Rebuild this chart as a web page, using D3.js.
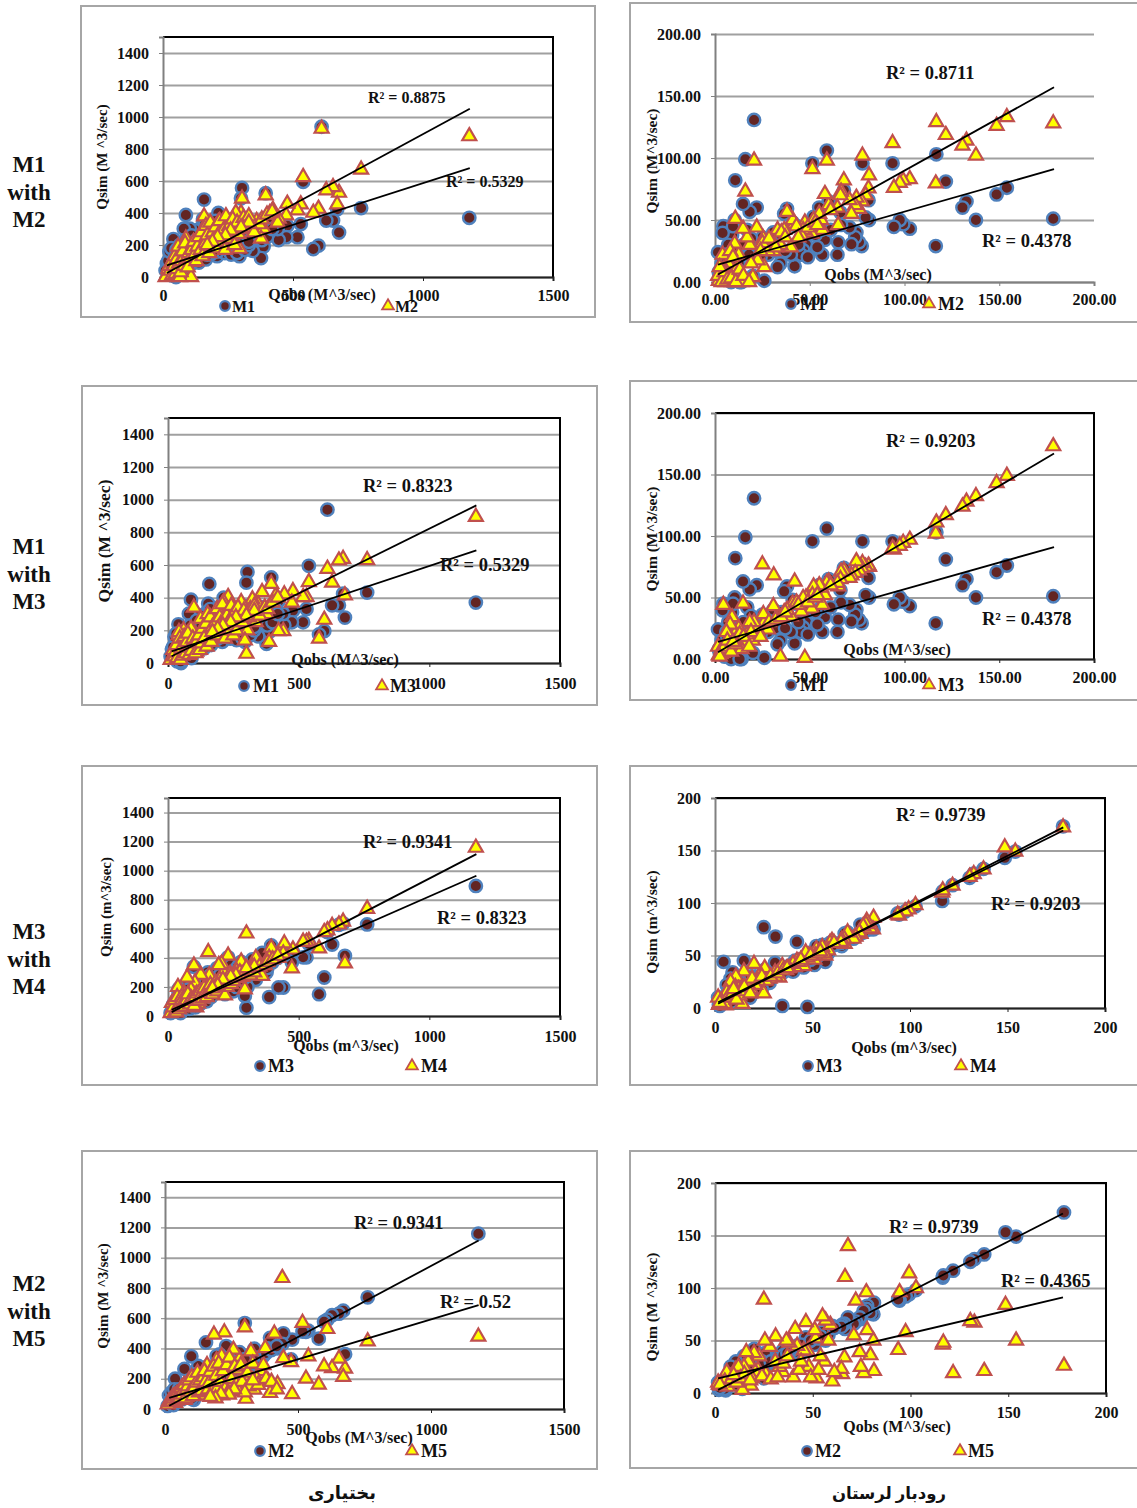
<!DOCTYPE html>
<html>
<head>
<meta charset="utf-8">
<style>
  body { margin: 0; background: #fff; }
  svg { display: block; }
  text { font-family: "Liberation Serif", "DejaVu Sans", serif; font-weight: bold; fill: #111; }
</style>
<script src="https://cdn.jsdelivr.net/npm/d3@7"></script>
</head>
<body>
<div id="chart"></div>
<script>
// Bakhtiari river, values
const qobsB = [1178,762,677,670,654,628,610,598,578,539,
  530,517,478,474,445,441,423,411,395,387,
  377,360,345,336,323,304,300,294,280,272,
  257,245,230,223,213,205,194,184,172,158,
  154,140,125,115,103,99,88,80,73,60,
  50,40,38,30,22,15,10,108,20,25,
  28,32,35,42,45,48,52,55,58,62,
  65,68,72,76,82,85,90,95,100,105,
  110,118,122,128,132,138,145,148,152,162,
  165,170,178,182,188,192,198,202,208,215,
  218,225,232,238,242,250,255,262,268,275,
  285,290,310,315,330,350,370,
  380,400,420,330,300,260,240,210,190,170];
const m1B = [370,431,278,424,353,353,939,196,175,595,
  331,249,320,249,231,300,380,330,524,190,
  118,340,163,270,290,557,492,130,300,250,
  220,180,280,200,400,250,330,200,130,484,
  363,300,290,100,302,150,388,302,200,100,
  0,237,170,150,90,85,40,80,100,160,
  30,180,10,60,120,10,170,40,130,80,
  200,50,150,100,60,230,30,130,70,190,
  260,150,120,230,170,90,250,120,160,330,
  110,210,160,290,140,240,180,350,130,230,
  170,300,190,150,240,310,180,140,260,200,
  150,350,230,170,200,250,280,
  230,250,300,220,280,200,210,160,150,140];
const m2B = [880,671,527,454,562,542,927,427,402,625,
  454,417,458,385,365,340,420,400,510,302,
  240,350,330,302,320,490,400,177,402,292,
  260,300,330,260,344,285,312,300,240,379,
  300,230,208,94,200,170,240,180,130,150,
  80,100,31,60,20,10,0,0,50,70,
  40,90,10,70,130,20,110,50,190,85,
  0,30,100,160,70,210,110,60,150,120,
  170,220,140,100,190,250,170,280,130,210,
  320,260,150,340,200,280,230,310,180,270,
  350,220,290,170,380,250,320,240,360,200,
  340,270,370,300,380,280,330,
  360,390,410,340,310,290,260,250,220,200];
const m3B = [895,630,414,638,628,492,577,265,150,496,
  404,404,440,370,420,196,196,410,485,130,
  300,434,360,250,390,200,57,138,373,270,
  250,300,404,240,373,210,312,180,160,250,
  200,110,271,100,180,339,210,120,100,200,
  130,170,60,90,50,30,20,70,80,40,
  65,110,30,190,150,20,90,45,110,160,
  70,60,130,180,50,95,75,150,120,60,
  130,170,80,120,210,150,240,100,300,280,
  130,220,180,250,330,170,280,240,360,200,
  150,290,250,200,350,170,310,200,340,260,
  250,320,280,330,350,290,340,
  330,370,400,320,290,280,250,230,210,190];
const m4B = [1158,738,362,650,630,620,590,577,465,518,
  510,512,458,328,500,430,400,410,470,400,
  380,276,380,398,340,320,568,183,375,280,
  300,250,416,220,300,360,350,200,180,280,
  440,200,284,85,230,348,180,140,265,160,
  70,100,200,60,40,90,20,60,60,110,
  30,25,130,45,80,60,130,110,75,90,
  65,120,110,150,95,80,120,105,70,130,
  155,105,170,145,120,190,165,130,160,215,
  180,150,190,230,170,200,250,210,240,230,
  142,200,260,290,220,240,280,310,260,300,
  270,290,310,280,300,340,350,
  370,390,415,340,330,280,270,250,210,190];
const m5B = [478,447,267,212,333,271,529,282,161,348,
  201,569,99,310,337,866,165,498,106,187,
  403,250,200,128,381,68,540,220,330,260,
  392,150,110,507,350,200,322,492,200,290,
  150,90,200,130,150,100,170,80,60,100,
  60,70,40,80,60,50,30,90,45,60,
  50,70,85,55,100,65,90,75,110,140,
  95,120,160,70,130,150,190,115,210,85,
  140,175,240,110,190,120,210,250,180,130,
  170,245,115,280,90,220,140,300,180,90,
  250,130,290,110,340,200,120,280,160,120,
  290,180,240,150,300,160,290,
  200,180,130,190,110,130,95,100,70,80];

// Lorestan river, values
const qobsL = [178.5,154,148.6,137.7,132.7,130.6,121.8,116.5,116.8,102.8,
  99.3,97.5,94.4,93.7,81.3,81,79.5,77.8,77.4,76,
  74.6,74,72,71,68,66.5,66.2,65,64.6,60,
  59,58,56.6,56,55,52,51.4,51,48,47.4,
  46.5,45.5,42,41,40,38,36.5,34.5,33,31,
  30.8,28,26,25.5,25,22.5,22,20.6,20,18.3,
  17,16,14.8,14,12.5,10.7,10.4,9,7,5.5,
  4.4,4,3,2,1.6,12,8,6,19,24,
  3.5,5,6.5,8.5,11,13,15,18,2.5,9.5,
  28.5,32,35,37,43,44,49,53,54,61];
const m1L = [51,76,70.6,50,65,60,81,29,103,43,
  46.6,50,44.5,95.7,50,66,52,95.7,29,32,
  40,36,30.5,44,74,46,56,32,22,65,
  106,34,22,42,60,52.6,95.7,26,30,40,
  25.6,22,12.7,48,22,59,55,15,12,35,
  40,22,1,30,36,25,60,130.7,5,56.6,
  42,99,63,0,15,82,50,38,30,12,
  45,39.6,10,8,24,25,20,22,35,20,
  15,2,18,0,12,0,30,22,5,45,
  30,25,38,25,45,30,20,38,28,42];
const m2L = [128,133,126,102,114,110,118.6,79.5,129,83,
  82,80,76,112,86,75.5,70,102,65,59,
  68,62,55,66,82,73,70,46,60,62,
  98,71,42,50,55,50,91,39,40,48,
  42,38,47,50,28,56.6,42,30,42,30,
  25,25,12,35,31.5,17.5,44,98,4,30,
  36,73,43,0,22,51,31,0,15,0,
  10,22,3,1,5,12,25,8,15,25,
  0,8,2,3,0,10,5,0,12,20,
  35,28,40,36,45,36,44,48,46,58];
const m3L = [173,149,143,132.5,128,124,117,102,111,97,
  94.4,92,89,90,75,76,75,78,74,72,
  79.5,70,68,66,72,71,65,59,62,63,
  62,52,44,58,60,59,52,41,50,1,
  49.5,38.6,63,45,34.6,40,38,2,32,68,
  43,24,30,36.5,77,20,25,30,15,30,
  20,12,45,8,25,15,20,34,12,6,
  44,5,4,3,10,18,28,22,22,18,
  8,10,15,6,12,20,18,10,2,14,
  30,32,34,38,46,44,46,50,52,60];
const m4L = [172,149,153,132,127.5,125,116.5,110,112,98,
  94,92,88,89,86,75,76,83,80,78,
  70.5,72,68,66,72,61,66,65,63,64,
  62,55,50,52,58,56,50,46,50,48,
  53,40,45,39,42,38,36,40,29,30,
  34,28,26,38,14,30,26,22,42,18,
  21.5,15,35,4,12,30,20,9,14,2.5,
  7,8,5,3,10,18,25,15,28,30,
  6,4,10,12,8,16,20,14,5,18,
  30,33,36,38,44,46,50,52,54,62];
const m5L = [26,50,84,21,67,68.5,19,46,48,100,
  114,58,96,41,21,50,36,60,96,19,
  25,39,88,55,140,110.5,34,18,23,11,
  65,50,69,30,73,14,52,60,25,40,
  67.6,40.6,45,61,15,48,50,20,25,54,
  30,44,18,50,89,35,22,20,38,7,
  30,39,25,3,18,12,22,10,16,14,
  12,9,7,8,10,25,15,20,14,16,
  9,11,6,13,10,14,18,12,8,17,
  13,15,28,35,22,30,15,22,35,20];

// Ticks
const yTicksB = [0, 200, 400, 600, 800, 1000, 1200, 1400];
const xTicksB = [0, 500, 1000, 1500];
const ticksL = [0, 50, 100, 150, 200];

// Trend lines, [x0, y0, x1, y1] in data units
const trendB1 = [[15, 73, 1180, 681], [15, 25, 1180, 1052]];
const trendB2 = [[14, 71, 1180, 690], [14, 41, 1180, 965]];
const trendB3 = [[14, 27, 1180, 1114], [14, 43, 1180, 965]];
const trendB4 = [[16, 22, 1179, 1113], [16, 73, 1179, 686]];
const trendL1 = [[1.6, 6, 178.9, 157], [1.6, 14, 178.9, 91]];
const trendL2 = [[1.6, 5.5, 178.9, 167], [1.6, 14, 178.9, 91]];
const trendL3 = [[1.6, 4, 178.6, 172], [1.6, 5.5, 178.6, 169]];
const trendL4 = [[1.6, 3, 178, 171], [1.6, 14, 178, 91]];

const rowLabels = [
  { lines: ["M1", "with", "M2"], y: 164 },
  { lines: ["M1", "with", "M3"], y: 546 },
  { lines: ["M3", "with", "M4"], y: 931 },
  { lines: ["M2", "with", "M5"], y: 1283 },
];

const left = { qobs: qobsB, xMax: 1500, yMax: 1500, xTicks: xTicksB, yTicks: yTicksB, fmt: (d) => d };
const right = { qobs: qobsL, xMax: 200, yMax: 200, xTicks: ticksL, yTicks: ticksL, fmt: (d) => d };
const rightFixed = { ...right, fmt: (d) => d.toFixed(2) };

const panels = [
  { ...left, frame: [81, 6, 595, 317], plot: [163, 553, 37, 277], circles: m1B, tris: m2B, trends: trendB1,
    names: ["M1", "M2"], tickY: 295, yLabel: ["Qsim (M ^3/sec)", 102, 157, 15], xLabel: ["Qobs (M^3/sec)", 322, 294],
    legend: [225, 232, 388, 395, 306, 16], r2: [["R² = 0.8875", 368, 97], ["R² = 0.5329", 446, 181]], r2Size: 16 },
  { ...rightFixed, frame: [630, 3, 1145, 322], plot: [715, 1094, 34, 282], circles: m1L, tris: m2L, trends: trendL1, noBox: true,
    names: ["M1", "M2"], tickY: 299, yLabel: ["Qsim (M^3/sec)", 652, 161, 15.5], xLabel: ["Qobs (M^3/sec)", 878, 274],
    legend: [791, 800, 929, 938, 304, 18], r2: [["R² = 0.8711", 886, 73], ["R² = 0.4378", 982, 241]], r2Size: 18.5 },
  { ...left, frame: [82, 386, 597, 705], plot: [168, 560, 418, 663], circles: m1B, tris: m3B, trends: trendB2,
    names: ["M1", "M3"], tickY: 683, yLabel: ["Qsim (M ^3/sec)", 104, 541, 17.5], xLabel: ["Qobs (M^3/sec)", 345, 659],
    legend: [244, 253, 382, 390, 686, 18], r2: [["R² = 0.8323", 363, 486], ["R² = 0.5329", 440, 565]], r2Size: 18.5 },
  { ...rightFixed, frame: [630, 381, 1145, 700], plot: [715, 1094, 413, 659], circles: m1L, tris: m3L, trends: trendL2,
    names: ["M1", "M3"], tickY: 677, yLabel: ["Qsim (M^3/sec)", 652, 539, 15.5], xLabel: ["Qobs (M^3/sec)", 897, 649],
    legend: [791, 800, 929, 938, 685, 18], r2: [["R² = 0.9203", 886, 441], ["R² = 0.4378", 982, 619]], r2Size: 18.5 },
  { ...left, frame: [82, 766, 597, 1085], plot: [168, 560, 798, 1016], circles: m3B, tris: m4B, trends: trendB3,
    names: ["M3", "M4"], tickY: 1036, yLabel: ["Qsim (m^3/sec)", 106, 907, 15], xLabel: ["Qobs (m^3/sec)", 346, 1045],
    legend: [260, 268, 412, 421, 1066, 18], r2: [["R² = 0.9341", 363, 842], ["R² = 0.8323", 437, 918]], r2Size: 18.5 },
  { ...right, frame: [630, 766, 1145, 1085], plot: [715, 1105, 798, 1008], circles: m3L, tris: m4L, trends: trendL3,
    names: ["M3", "M4"], tickY: 1027, yLabel: ["Qsim (m^3/sec)", 652, 922, 15.5], xLabel: ["Qobs (m^3/sec)", 904, 1047],
    legend: [808, 816, 961, 970, 1066, 18], r2: [["R² = 0.9739", 896, 815], ["R² = 0.9203", 991, 904]], r2Size: 18.5 },
  { ...left, frame: [82, 1151, 597, 1469], plot: [165, 564, 1182, 1409], circles: m4B, tris: m5B, trends: trendB4,
    names: ["M2", "M5"], tickY: 1429, yLabel: ["Qsim (M ^3/sec)", 103, 1296, 15], xLabel: ["Qobs (M^3/sec)", 359, 1437],
    legend: [260, 268, 412, 421, 1451, 18], r2: [["R² = 0.9341", 354, 1223], ["R² = 0.52", 440, 1302]], r2Size: 18.5 },
  { ...right, frame: [630, 1151, 1145, 1468], plot: [715, 1106, 1183, 1393], circles: m4L, tris: m5L, trends: trendL4,
    names: ["M2", "M5"], tickY: 1412, yLabel: ["Qsim (M ^3/sec)", 652, 1307, 15.5], xLabel: ["Qobs (M^3/sec)", 897, 1426],
    legend: [807, 815, 960, 968, 1451, 18], r2: [["R² = 0.9739", 889, 1227], ["R² = 0.4365", 1001, 1281]], r2Size: 18.5 },
];

const gridColor = "#a0a0a0";
const circleFill = "#632523";
const circleStroke = "#4f81bd";
const triFill = "#ffff00";
const triStroke = "#c0504d";

const svg = d3.select("#chart").append("svg").attr("width", 1137).attr("height", 1508);
svg.append("rect").attr("width", 1137).attr("height", 1508).attr("fill", "#fff");

const triangle = d3.symbol().type(d3.symbolTriangle);

panels.forEach((p) => {
  const [fx0, fy0, fx1, fy1] = p.frame;
  const [px0, px1, py0, py1] = p.plot;

  svg.append("rect")
    .attr("x", fx0).attr("y", fy0)
    .attr("width", fx1 - fx0).attr("height", fy1 - fy0)
    .attr("fill", "#fff").attr("stroke", "#a6a6a6").attr("stroke-width", 2);

  const x = d3.scaleLinear().domain([0, p.xMax]).range([px0, px1]);
  const y = d3.scaleLinear().domain([0, p.yMax]).range([py1, py0]);

  // gridlines
  svg.append("g")
    .attr("transform", `translate(${px0},0)`)
    .call(d3.axisLeft(y).tickValues(p.yTicks).tickSize(-(px1 - px0)).tickFormat(""))
    .call((g) => g.select(".domain").remove())
    .call((g) => g.selectAll("line").attr("stroke", gridColor).attr("stroke-width", 2));

  // box top and right
  if (!p.noBox) {
    svg.append("path")
      .attr("d", `M${px0},${py0}H${px1}V${py1}`)
      .attr("fill", "none").attr("stroke", "#000").attr("stroke-width", 2);
  }

  // y axis
  svg.append("g")
    .attr("transform", `translate(${px0},0)`)
    .call(d3.axisLeft(y).tickValues(p.yTicks).tickSize(4).tickPadding(10).tickFormat(p.fmt))
    .call((g) => g.select(".domain").attr("stroke", "#808080").attr("stroke-width", 2))
    .call((g) => g.selectAll("line").attr("stroke", "#808080"))
    .call((g) => g.selectAll("text").attr("font-size", 16).attr("font-family", null));

  // x axis
  const bottomColor = p.noBox ? "#808080" : "#222";
  svg.append("g")
    .attr("transform", `translate(0,${py1})`)
    .call(d3.axisBottom(x).tickValues(p.xTicks).tickSize(4).tickFormat(p.fmt))
    .call((g) => g.select(".domain").attr("stroke", bottomColor).attr("stroke-width", 2))
    .call((g) => g.selectAll("line").attr("stroke", bottomColor))
    .call((g) => g.selectAll("text")
      .attr("font-size", 16).attr("font-family", null)
      .attr("y", p.tickY - py1).attr("dy", "0.35em"));

  // points
  svg.append("g").selectAll("circle")
    .data(p.qobs.map((q, i) => [q, p.circles[i]]))
    .join("circle")
    .attr("cx", (d) => x(d[0])).attr("cy", (d) => y(d[1])).attr("r", 6.2)
    .attr("fill", circleFill).attr("stroke", circleStroke).attr("stroke-width", 2.4);

  svg.append("g").selectAll("path")
    .data(p.qobs.map((q, i) => [q, p.tris[i]]))
    .join("path")
    .attr("d", triangle.size(85)())
    .attr("transform", (d) => `translate(${x(d[0])},${y(d[1])})`)
    .attr("fill", triFill).attr("stroke", triStroke).attr("stroke-width", 2.2);

  // trend lines
  svg.append("g").selectAll("line")
    .data(p.trends)
    .join("line")
    .attr("x1", (d) => x(d[0])).attr("y1", (d) => y(d[1]))
    .attr("x2", (d) => x(d[2])).attr("y2", (d) => y(d[3]))
    .attr("stroke", "#000").attr("stroke-width", 1.8);

  // axis titles
  svg.append("text")
    .attr("transform", `translate(${p.yLabel[1]},${p.yLabel[2]}) rotate(-90)`)
    .attr("text-anchor", "middle").attr("dy", "0.35em")
    .attr("font-size", p.yLabel[3])
    .text(p.yLabel[0]);
  svg.append("text")
    .attr("x", p.xLabel[1]).attr("y", p.xLabel[2])
    .attr("text-anchor", "middle").attr("dy", "0.35em")
    .attr("font-size", 16)
    .text(p.xLabel[0]);

  // legend
  const [cx, ctx, tx, ttx, ly, ls] = p.legend;
  svg.append("circle").attr("cx", cx).attr("cy", ly).attr("r", 4.8)
    .attr("fill", circleFill).attr("stroke", circleStroke).attr("stroke-width", 2.2);
  svg.append("text").attr("x", ctx).attr("y", ly).attr("dy", "0.35em")
    .attr("font-size", ls).text(p.names[0]);
  svg.append("path").attr("d", triangle.size(60)())
    .attr("transform", `translate(${tx},${ly})`)
    .attr("fill", triFill).attr("stroke", triStroke).attr("stroke-width", 1.8);
  svg.append("text").attr("x", ttx).attr("y", ly).attr("dy", "0.35em")
    .attr("font-size", ls).text(p.names[1]);

  // R2 labels
  p.r2.forEach((r) => {
    svg.append("text").attr("x", r[1]).attr("y", r[2]).attr("dy", "0.35em")
      .attr("font-size", p.r2Size).text(r[0]);
  });
});

// row labels on the left
rowLabels.forEach((r) => {
  r.lines.forEach((line, i) => {
    svg.append("text")
      .attr("x", 29).attr("y", r.y + i * 27.5).attr("dy", "0.35em")
      .attr("text-anchor", "middle").attr("font-size", 23)
      .text(line);
  });
});

// column captions
svg.append("text").attr("x", 342).attr("y", 1493).attr("dy", "0.35em")
  .attr("text-anchor", "middle").attr("font-size", 18).text("بختیاری");
svg.append("text").attr("x", 889).attr("y", 1493).attr("dy", "0.35em")
  .attr("text-anchor", "middle").attr("font-size", 16.5).text("رودبار لرستان");
</script>
</body>
</html>
